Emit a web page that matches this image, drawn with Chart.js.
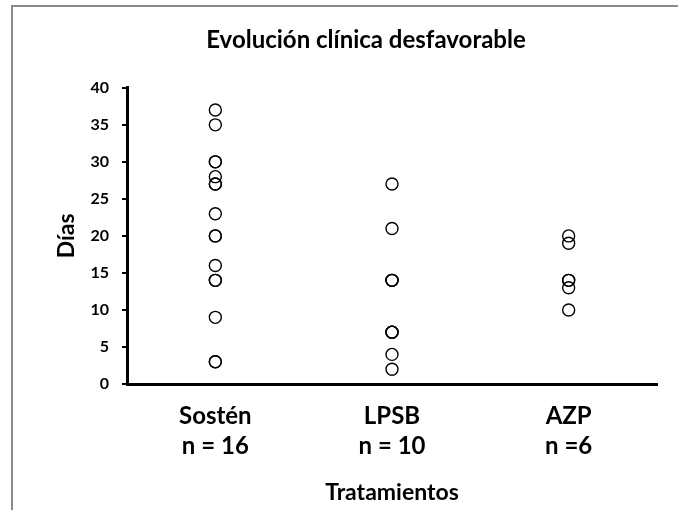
<!DOCTYPE html>
<html>
<head>
<meta charset="utf-8">
<script src="https://cdn.jsdelivr.net/npm/chart.js@4/dist/chart.umd.min.js"></script>
<style>
  html, body { margin: 0; padding: 0; background: #fff; }
  #wrap { width: 678px; height: 510px; }
</style>
</head>
<body>
<div id="wrap"><canvas id="chart"></canvas></div>
<script>
// values
const categories = ["Sostén", "LPSB", "AZP"];
const nLabels = ["n = 16", "n = 10", "n =6"];
const sostenDias = [37, 35, 30, 30, 28, 27, 27, 23, 20, 20, 16, 14, 14, 9, 3, 3];
const lpsbDias = [27, 21, 14, 14, 14, 7, 7, 7, 4, 2];
const azpDias = [20, 19, 14, 14, 13, 10];
const yTicks = [0, 5, 10, 15, 20, 25, 30, 35, 40];

const FONT = "Lato, 'Open Sans', sans-serif";

function toPoints(values, pos) {
  return values.map((v) => ({ x: pos, y: v }));
}

// grey outer frame like the office chart box
const framePlugin = {
  id: "frame",
  beforeDraw(chart) {
    const ctx = chart.ctx;
    ctx.save();
    ctx.fillStyle = "#fff";
    ctx.fillRect(0, 0, chart.width, chart.height);
    ctx.strokeStyle = "#8c8c8c";
    ctx.lineWidth = 2;
    ctx.strokeRect(12, 6, chart.width + 20, chart.height + 20);
    ctx.restore();
  },
};

const pointStyle = {
  pointStyle: "circle",
  pointRadius: 6,
  pointBorderWidth: 1.4,
  borderColor: "#000",
  backgroundColor: "rgba(0,0,0,0)",
  showLine: false,
};

new Chart(document.getElementById("chart"), {
  type: "scatter",
  data: {
    datasets: [
      { data: toPoints(sostenDias, 1), ...pointStyle },
      { data: toPoints(lpsbDias, 2), ...pointStyle },
      { data: toPoints(azpDias, 3), ...pointStyle },
    ],
  },
  plugins: [framePlugin],
  options: {
    responsive: true,
    maintainAspectRatio: false,
    animation: false,
    layout: {
      padding: { left: 75, right: 21, top: 0, bottom: 0 },
    },
    plugins: {
      legend: { display: false },
      tooltip: { enabled: false },
      title: {
        display: true,
        text: "Evolución clínica desfavorable",
        color: "#000",
        font: { family: FONT, size: 24, weight: "bold", lineHeight: 1.2 },
        padding: { top: 26, bottom: 33 },
      },
    },
    scales: {
      x: {
        type: "linear",
        min: 0.5,
        max: 3.5,
        afterBuildTicks: (scale) => {
          scale.ticks = categories.map((c, i) => ({ value: i + 1 }));
        },
        afterFit: (scale) => {
          scale.height = 126;
        },
        grid: { display: true, drawOnChartArea: false, drawTicks: false },
        border: { display: true, color: "#000", width: 3 },
        ticks: {
          color: "#000",
          padding: 17,
          font: { family: FONT, size: 24, weight: "bold", lineHeight: 30 / 24 },
          callback: (v) => [categories[v - 1], nLabels[v - 1]],
        },
        title: {
          display: true,
          text: "Tratamientos",
          color: "#000",
          font: { family: FONT, size: 23, weight: "bold", lineHeight: 1.2 },
          padding: { top: 0, bottom: 4 },
        },
      },
      y: {
        min: 0,
        max: 40,
        afterBuildTicks: (scale) => {
          scale.ticks = yTicks.map((v) => ({ value: v }));
        },
        afterFit: (scale) => {
          scale.width = 52;
        },
        grid: {
          drawOnChartArea: false,
          drawTicks: true,
          tickLength: 5,
          color: "#000",
          lineWidth: 2,
        },
        border: { display: true, color: "#000", width: 3 },
        ticks: {
          color: "#000",
          padding: 13,
          font: { family: FONT, size: 16, weight: "bold" },
        },
        title: {
          display: true,
          text: "Días",
          color: "#000",
          font: { family: FONT, size: 23, weight: "bold", lineHeight: 1.2 },
          padding: { top: -22, bottom: 0 },
        },
      },
    },
  },
});
</script>
</body>
</html>
